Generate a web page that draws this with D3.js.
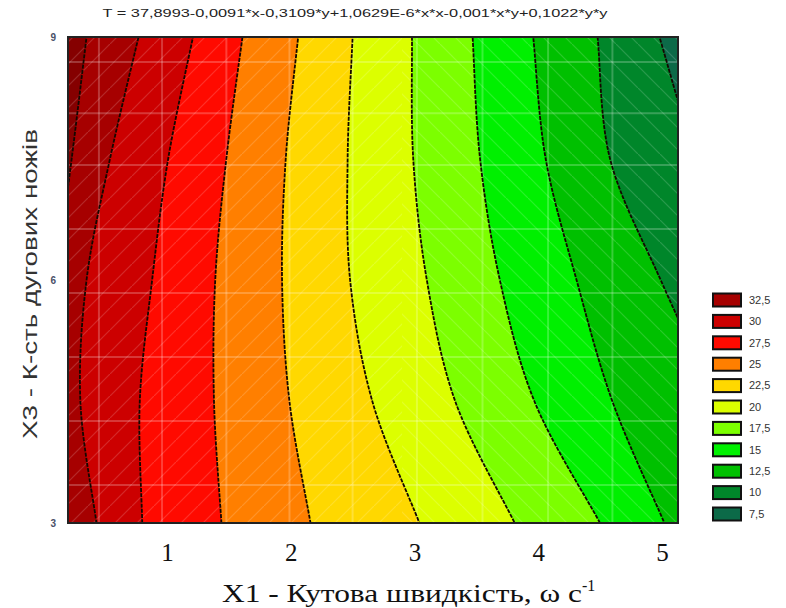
<!DOCTYPE html>
<html>
<head>
<meta charset="utf-8">
<script src="https://cdn.jsdelivr.net/npm/d3@7"></script>
<style>
  body { margin: 0; background: #fff; }
  svg { display: block; }
</style>
</head>
<body>
<svg id="chart" width="786" height="608"></svg>
<script>
// ---- data -------------------------------------------------------------
const titleText = "T = 37,8993-0,0091*x-0,3109*y+1,0629E-6*x*x-0,001*x*y+0,1022*y*y";
const xTitle = "X1 - Кутова швидкість, ω  с";
const xTitleSup = "-1";
const yTitle = "X3 - К-сть дугових ножів";

const xDomain = [0.2, 5.13];
const yDomain = [3, 9];
const xTicks = [1, 2, 3, 4, 5];
const yTicks = [3, 6, 9];

// mesh lines of the fitted surface
const gridX = [0.45, 0.96, 1.48, 1.99, 2.5, 3.02, 3.55, 4.08, 4.6];
const gridY = [3.47, 4.26, 5.05, 5.84, 6.63, 7.42, 8.06, 8.69];

// y positions at which each contour line is sampled
const sampleY = [3, 4.5, 6, 7.5, 9];
// contour levels (lines) and x of each line at sampleY
const lineLevels = [35, 32.5, 30, 27.5, 25, 22.5, 20, 17.5, 15, 12.5, 10];
const lineX = [
  [-0.11, -0.03, 0.10, 0.23, 0.35],   // 35
  [ 0.43,  0.30, 0.35, 0.54, 0.77],   // 32.5
  [ 0.80,  0.78, 0.88, 1.01, 1.21],   // 30
  [ 1.44,  1.38, 1.39, 1.48, 1.61],   // 27.5
  [ 2.16,  1.99, 1.93, 1.96, 2.06],   // 25
  [ 3.04,  2.66, 2.48, 2.46, 2.50],   // 22.5
  [ 3.81,  3.33, 3.10, 2.99, 2.98],   // 20
  [ 4.50,  3.97, 3.69, 3.53, 3.47],   // 17.5
  [ 5.02,  4.60, 4.31, 4.06, 3.96],   // 15
  [ 5.95,  5.45, 4.99, 4.58, 4.48],   // 12.5
  [ 6.60,  6.10, 5.70, 5.28, 4.98]    // 10
];

// legend entries and band colours (band just below each level)
const legendLabels = ["32,5", "30", "27,5", "25", "22,5", "20", "17,5", "15", "12,5", "10", "7,5"];
const bandColors = ["#a60000", "#cc0000", "#ff0a00", "#ff7f00", "#ffd800", "#dcff00",
                    "#7cff00", "#00f000", "#00c000", "#00862a", "#0c6a48"];
const topBandColor = "#850000";

// ---- layout -----------------------------------------------------------
const plot = { left: 68, right: 678, top: 37, bottom: 523 };
const svg = d3.select("#chart");

const x = d3.scaleLinear().domain(xDomain).range([plot.left, plot.right]);
const y = d3.scaleLinear().domain(yDomain).range([plot.bottom, plot.top]);

const defs = svg.append("defs");
defs.append("clipPath").attr("id", "plotClip")
  .append("rect")
  .attr("x", plot.left).attr("y", plot.top)
  .attr("width", plot.right - plot.left).attr("height", plot.bottom - plot.top);

// faint diagonal mesh texture, rising on the left part, falling on the right
function hatch(id, dir) {
  const p = defs.append("pattern").attr("id", id)
    .attr("patternUnits", "userSpaceOnUse").attr("width", 22).attr("height", 22);
  p.append("path")
    .attr("d", dir > 0 ? "M-2,24 L24,-2" : "M-2,-2 L24,24")
    .attr("stroke", "#fff").attr("stroke-opacity", 0.16).attr("stroke-width", 1.2);
}
hatch("hatchUp", 1);
hatch("hatchDown", -1);

const g = svg.append("g").attr("clip-path", "url(#plotClip)");

// highest band fills the whole plot first
g.append("rect")
  .attr("x", plot.left).attr("y", plot.top)
  .attr("width", plot.right - plot.left).attr("height", plot.bottom - plot.top)
  .attr("fill", topBandColor);

const lines = lineX.map((xs, i) => ({
  level: lineLevels[i],
  pts: xs.map((xv, j) => ({ x: xv, y: sampleY[j] }))
}));

// extend each line slightly beyond the y range so fills reach the frame
function extended(pts) {
  const a = pts[0], b = pts[1], c = pts[pts.length - 1], d = pts[pts.length - 2];
  return [
    { x: a.x + (a.x - b.x) * 0.3, y: a.y - (b.y - a.y) * 0.3 },
    ...pts,
    { x: c.x + (c.x - d.x) * 0.3, y: c.y + (c.y - d.y) * 0.3 }
  ];
}

const area = d3.area()
  .curve(d3.curveCatmullRom)
  .y(d => y(d.y))
  .x0(d => x(d.x))
  .x1(plot.right + 400);

const line = d3.line()
  .curve(d3.curveCatmullRom)
  .x(d => x(d.x))
  .y(d => y(d.y));

// fill everything right of each line with the band colour below its level
g.selectAll("path.band")
  .data(lines)
  .join("path")
  .attr("class", "band")
  .attr("d", d => area(extended(d.pts)))
  .attr("fill", (d, i) => bandColors[i]);

// mesh texture
g.append("rect")
  .attr("x", plot.left).attr("y", plot.top)
  .attr("width", x(2.9) - plot.left).attr("height", plot.bottom - plot.top)
  .attr("fill", "url(#hatchUp)");
g.append("rect")
  .attr("x", x(2.9)).attr("y", plot.top)
  .attr("width", plot.right - x(2.9)).attr("height", plot.bottom - plot.top)
  .attr("fill", "url(#hatchDown)");

// light grid
g.selectAll("line.gx").data(gridX).join("line")
  .attr("x1", d => x(d)).attr("x2", d => x(d))
  .attr("y1", plot.top).attr("y2", plot.bottom)
  .attr("stroke", "#fff").attr("stroke-opacity", 0.22).attr("stroke-width", 2);
g.selectAll("line.gy").data(gridY).join("line")
  .attr("y1", d => y(d)).attr("y2", d => y(d))
  .attr("x1", plot.left).attr("x2", plot.right)
  .attr("stroke", "#fff").attr("stroke-opacity", 0.22).attr("stroke-width", 2);

// contour lines
g.selectAll("path.contour")
  .data(lines)
  .join("path")
  .attr("class", "contour")
  .attr("d", d => line(extended(d.pts)))
  .attr("fill", "none")
  .attr("stroke", "#140800")
  .attr("stroke-width", 1.8)
  .attr("stroke-dasharray", "4,1.2");

// frame
svg.append("rect")
  .attr("x", plot.left).attr("y", plot.top)
  .attr("width", plot.right - plot.left).attr("height", plot.bottom - plot.top)
  .attr("fill", "none").attr("stroke", "#222").attr("stroke-width", 2);

// ---- axes -------------------------------------------------------------
const xAxis = d3.axisBottom(x).tickValues(xTicks).tickSize(0).tickFormat(d3.format("d"));
svg.append("g")
  .attr("transform", `translate(0,${plot.bottom})`)
  .call(xAxis)
  .call(a => a.select(".domain").remove())
  .call(a => a.selectAll("text")
    .attr("dy", 0).attr("y", 38)
    .attr("font-family", "Liberation Serif, Times New Roman, serif")
    .attr("font-size", 25).attr("fill", "#111"));

const yAxis = d3.axisLeft(y).tickValues(yTicks).tickSize(0).tickFormat(d3.format("d"));
svg.append("g")
  .attr("transform", `translate(${plot.left},0)`)
  .call(yAxis)
  .call(a => a.select(".domain").remove())
  .call(a => a.selectAll("text")
    .attr("x", -12)
    .attr("font-family", "Liberation Sans, Arial, sans-serif")
    .attr("font-size", 10).attr("font-weight", "bold").attr("fill", "#4a5068"));

// x title with superscript
const xt = svg.append("text")
  .attr("x", 222).attr("y", 602)
  .attr("font-family", "Liberation Serif, Times New Roman, serif")
  .attr("font-size", 26).attr("fill", "#111");
xt.append("tspan").attr("textLength", 360).attr("lengthAdjust", "spacingAndGlyphs").text(xTitle);
xt.append("tspan").attr("dy", -11).attr("font-size", 16).text(xTitleSup);

// y title
svg.append("text")
  .attr("transform", `translate(37,${(128 + 440) / 2}) rotate(-90)`)
  .attr("text-anchor", "middle")
  .attr("font-family", "Liberation Sans, Arial, sans-serif")
  .attr("font-size", 21).attr("fill", "#333")
  .attr("textLength", 310).attr("lengthAdjust", "spacingAndGlyphs")
  .text(yTitle);

// chart title
svg.append("text")
  .attr("x", 355).attr("y", 17)
  .attr("text-anchor", "middle")
  .attr("font-family", "Liberation Sans, Arial, sans-serif")
  .attr("font-size", 11).attr("fill", "#222")
  .attr("textLength", 505).attr("lengthAdjust", "spacingAndGlyphs")
  .text(titleText);

// ---- legend -----------------------------------------------------------
const legendY = d3.scalePoint().domain(legendLabels).range([300, 514]);
const lg = svg.append("g");
const item = lg.selectAll("g.item").data(legendLabels).join("g")
  .attr("class", "item")
  .attr("transform", d => `translate(713,${legendY(d)})`);
item.append("rect")
  .attr("x", 0).attr("y", -6.5).attr("width", 28).attr("height", 13)
  .attr("fill", (d, i) => bandColors[i])
  .attr("stroke", "#111").attr("stroke-width", 2);
item.append("text")
  .attr("x", 36).attr("y", 0).attr("dy", "0.35em")
  .attr("font-family", "Liberation Sans, Arial, sans-serif")
  .attr("font-size", 11).attr("fill", "#333")
  .text(d => d);
</script>
</body>
</html>
